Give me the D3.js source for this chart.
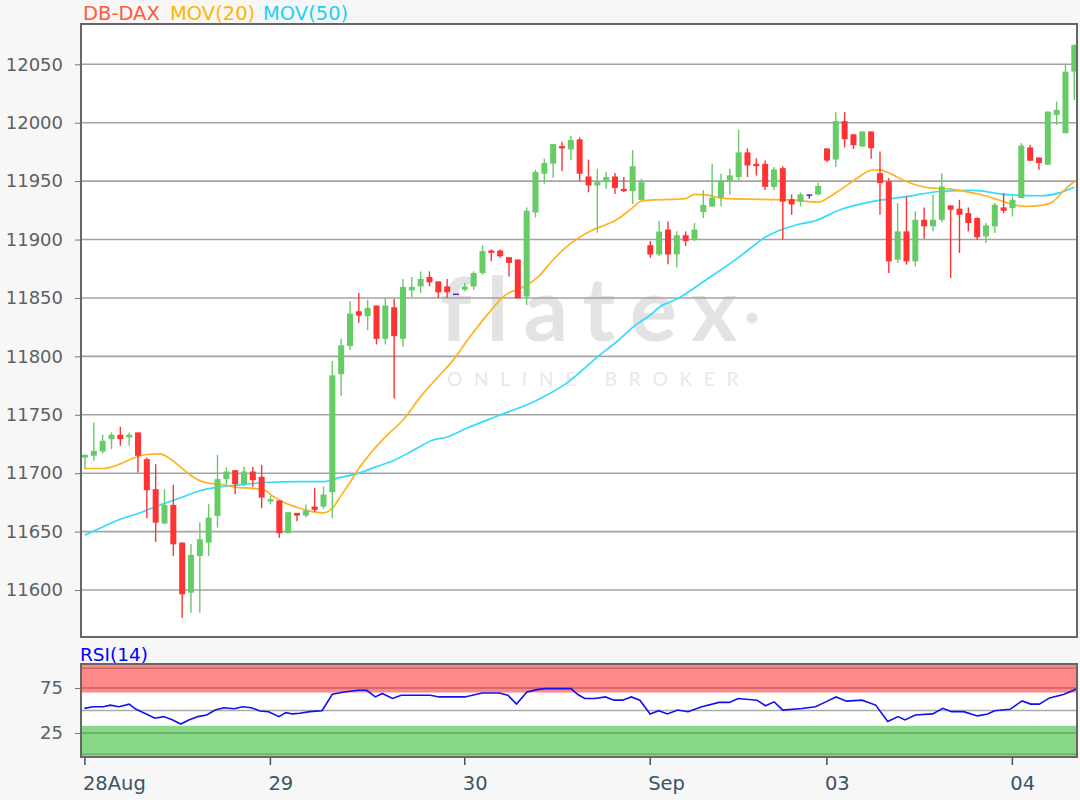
<!DOCTYPE html>
<html><head><meta charset="utf-8">
<script src="https://cdn.jsdelivr.net/npm/d3@7/dist/d3.min.js"></script>
<style>html,body{margin:0;padding:0;background:#f7f7f7;}svg{display:block;font-family:"DejaVu Sans",sans-serif;}</style>
</head><body><svg id="c" width="1080" height="800"></svg>
<script>
// ---- data ----
const openP  = [11713.4,11714.9,11718.6,11729.1,11732.9,11730.6,11734.9,11712,11686.3,11656.9,11672.9,11640.6,11597.7,11629.1,11640.6,11663.4,11694.9,11702.6,11690.6,11701.4,11696.9,11675.7,11676.6,11648.6,11666,11663.7,11671.4,11671.4,11683.8,11784.7,11808.8,11838.6,11834.4,11843.5,11815,11842,11815,11856.5,11859.9,11867.9,11864.2,11859.9,11853.7,11857.1,11859.8,11871.3,11890.6,11890.6,11884.9,11882.9,11851.2,11923.2,11956.3,11965,11980,11977.1,11985.7,11954,11946.3,11949.1,11954,11943.4,11941.4,11933.9,11895.2,11887.2,11908.5,11887.3,11903.7,11900,11923.4,11928.2,11935.8,11949.3,11953.5,11974.6,11964.8,11964.8,11945.1,11961.1,11934.6,11932.4,11938.6,11938.6,11978,11968.5,12001.4,11990.1,11979.6,11992.5,11956.8,11949.7,11882.8,11907,11881.3,11916.9,11911.3,11916.9,11929.2,11926.4,11922.6,11918.4,11902.7,11911.3,11927.5,11926.9,11935.5,11978.8,11970.2,11964,12006.7,11991,12043.7];
const highP  = [11715.7,11743.4,11732.9,11734.9,11739.7,11734.9,11734.9,11713.4,11707.7,11686.3,11690,11640.6,11639.1,11657.7,11673.4,11715.7,11704.9,11702.6,11705.4,11705.4,11707.1,11680.6,11676.6,11666.6,11666,11673.1,11687.4,11688.6,11796,11815,11847.2,11854.3,11848.6,11843.5,11850,11849.1,11866.2,11867.9,11872.7,11872.7,11864.2,11866.2,11853.7,11862.8,11872.8,11895.2,11891.5,11891.5,11884.9,11882.9,11927.5,11959.8,11969.3,11981.7,11983.7,11988.6,11987.5,11968.4,11960.7,11957.8,11956.9,11953.5,11976.5,11952,11898.7,11916,11915.5,11907,11907,11914.1,11942.3,11964.8,11956.3,11960.6,11993.8,11978,11969.6,11967.6,11962,11962.8,11938.6,11940.3,11938.6,11948.7,11978,12009,12009,11990.1,11992.5,11992.5,11975.4,11952.6,11931.2,11936.9,11924.1,11927.5,11938.3,11956.8,11929.2,11934,11927.5,11919,11914.1,11931.2,11939.7,11936.9,11982.5,11981.1,11970.2,12009.5,12018.1,12049.4,12067.1];
const lowP   = [11703.4,11710.6,11716.9,11720.6,11723.4,11723.4,11700.6,11661.4,11641.1,11656.3,11629.1,11576.3,11580.6,11580.6,11629.1,11653.4,11690,11682,11689.1,11688.3,11670,11673.4,11644.6,11648.6,11658.9,11662.3,11666.6,11669.4,11661.6,11766.2,11805.4,11828.7,11822.4,11810.2,11810.2,11763.9,11808.2,11850.9,11854.3,11859.9,11850,11850,11853.7,11855.7,11856.9,11869.9,11881.4,11884.3,11868.4,11849.7,11844,11918.9,11947.7,11952.9,11958.6,11968.4,11950,11940.5,11905.9,11943.4,11939,11940.5,11930.4,11933.3,11884.3,11885.7,11878.9,11876,11894.4,11898.6,11918.3,11928.2,11928.2,11938.6,11949.9,11953.5,11954.9,11942.3,11942.3,11900,11921.1,11928.2,11935,11938,11966.2,11962,11978.9,11977.5,11979.6,11969.1,11921.2,11871.4,11879.9,11878.5,11877,11900.7,11907,11915,11867,11888.5,11907,11899.9,11897,11905.6,11922.6,11919.8,11935.5,11967.4,11959.7,11964,11998.1,11991,12019.5];
const closeP = [11715.7,11719.1,11727.7,11732.9,11729.1,11732.9,11714.9,11685.4,11657.7,11672.9,11639.1,11596.3,11630,11643.4,11662,11694.9,11701.4,11690.6,11701.4,11694,11679.1,11677.7,11648.6,11666.6,11663.7,11668,11668.6,11681.7,11783.8,11809.4,11836.6,11834.9,11841.5,11815,11843.5,11817.3,11859.4,11859.4,11866.2,11863.4,11854.8,11854.8,11853.7,11859.9,11871.3,11890.1,11888.6,11885.7,11880,11849.7,11924.6,11957.8,11965.6,11981.7,11978,11985.2,11956.3,11946.3,11949.1,11953.5,11944.2,11941.4,11962.7,11949.1,11887.2,11906.8,11887.3,11903.7,11898.6,11908.5,11929.6,11935.8,11950.7,11954.9,11974.6,11963.4,11962.8,11945.1,11960,11932.4,11930.1,11938.6,11938.6,11945.9,11967.6,12001.4,11985.9,11980.8,11992.5,11978.2,11948.3,11881.3,11907,11881.3,11916.9,11911.3,11916.9,11945.4,11925.5,11921.2,11914.1,11901.9,11912.1,11929.8,11924.6,11934,11980.5,11967.4,11965.4,12009.5,12011,12043.7,12066.5];

// moving averages: candle index where read, and value
const mov20At = [0,2,4,5.5,7,8.5,9.5,10.7,12,13,14,15.3,17,19,20.2,21.3,22.8,24.3,25.8,27,28,29,30,31,32,34,36,38,40,41.7,43.6,45.7,47.5,49.5,51.3,52.8,54.3,55.8,57.4,58.9,60.4,61.9,63,64.5,66.6,68,69,70.5,72.2,76.4,80.2,83,84.3,85.5,87.4,89,90,91.3,92.8,94.3,95.9,97.8,99.6,101.5,103.4,104.9,106.4,108.3,109.6,110.9,112];
const mov20   = [11704,11704,11708,11713,11716,11716.5,11713,11706,11698,11693.5,11691.5,11690.5,11688,11687,11686,11680,11674,11670,11667,11666,11670,11681,11692,11704,11714,11731,11745.5,11765.5,11782.6,11797,11817,11837,11852,11859,11868,11881,11892.5,11901,11908,11912.4,11918,11926.7,11933,11934,11934.4,11935,11938.6,11938,11935.2,11934.4,11933.8,11932,11936.6,11942.5,11952.4,11959.3,11959.7,11956,11950.3,11946.3,11944,11943.4,11941.2,11938.3,11934,11930.3,11928.3,11929.2,11932.6,11942.6,11949.7];
const mov50At = [0,2,4,6,8.5,10.7,13,15,17.5,20.5,24,27,28.5,31,33,35,37,39.4,41,43.2,47,50.8,54.5,58.3,60.2,62.1,64,65.1,67,70.4,74.2,77,80.6,82.5,85.5,89.2,93,96.8,100.6,104.3,108.1,110.4,112];
const mov50   = [11647,11654,11660.5,11665.5,11672.8,11678.5,11685,11688,11690,11692,11692.7,11692.7,11695.6,11700,11705.6,11711,11719,11728.4,11731,11738.4,11749.8,11761.2,11776.9,11801.2,11812.5,11825.4,11835.4,11842.5,11849,11866,11885.8,11902,11912.7,11915.6,11925.5,11932.6,11936.8,11941.1,11942,11938.5,11937.5,11940.2,11944.8];

// RSI(14): candle index where read, and value
const rsiAt = [-0.07,0.9,2.07,2.85,3.83,5.0,5.78,6.75,7.92,8.9,9.87,10.84,11.82,12.79,13.77,14.74,15.72,16.89,17.86,18.84,19.81,20.79,21.95,22.73,23.51,24.29,25.46,26.83,28.0,29.36,30.92,31.89,32.87,33.65,34.82,35.8,39.1,40.08,43.0,44.96,46.9,47.88,48.85,50.03,51.19,52.0,55.02,55.8,56.58,57.75,58.91,59.89,60.86,61.84,62.82,63.98,64.96,65.93,67.1,68.27,69.83,71.78,72.95,73.93,76.07,77.04,78.02,79.0,81.14,82.7,83.87,85.03,86.21,87.96,89.51,90.88,92.05,92.83,94.0,95.96,97.12,98.1,99.47,101.02,102.2,102.97,104.72,106.09,107.07,108.04,109.2,110.76,111.93,112.3];
const rsi   = [52.4,54.2,54.2,56,54.2,57.1,51.3,46.9,41.4,43.2,39.6,34.9,39.6,43.2,45,50.5,53.1,52,54.2,53.1,49.4,48.7,43.2,47.6,46.2,46.9,48.7,49.8,68.1,70.6,72.5,72.5,65.1,68.9,63.4,67,67,65.1,65.1,69.5,69.5,67,57.1,70.6,73.2,74.3,74.3,67.8,63.4,63.4,65.1,61.5,61.5,65.1,61.5,46.2,49.8,46.2,50.5,48.7,54.2,59,59,63.4,61.5,55.3,59.6,50.5,52.3,54.2,59.6,65.1,60.4,61.5,56,37.7,43.2,39.6,45,46.2,52.4,48.7,48.7,44,46.2,49.8,51.3,60.7,57.1,57.1,64,67.8,72.5,74.5];

const priceTicks = [11600,11650,11700,11750,11800,11850,11900,11950,12000,12050];
const rsiTicks = [25,75];
const dateLabels = ["28Aug","29","30","Sep","03","04"];
const dateAt = [0,21,43,64,84,105];   // first candle of each trading day

// ---- layout ----
const svg = d3.select("#c");
const L = 81, R = 1077, T = 24, B = 637, RT = 664, RB = 757;
const x = d3.scaleLinear().domain([0, 112]).range([85, 1074.3]);
const y = d3.scaleLinear().domain([11600, 12050]).range([590, 64.3]);
const yr = d3.scaleLinear().domain([-1.7, 101.7]).range([RB, RT]);

svg.append("rect").attr("width",1080).attr("height",800).attr("fill","#f7f7f7");
const defs = svg.append("defs");
defs.append("clipPath").attr("id","pc").append("rect").attr("x",L).attr("y",T).attr("width",R-L).attr("height",B-T);
defs.append("clipPath").attr("id","rc").append("rect").attr("x",L).attr("y",RT).attr("width",R-L).attr("height",RB-RT);

// main plot background
svg.append("rect").attr("x",L).attr("y",T).attr("width",R-L).attr("height",B-T).attr("fill","#fff");

// watermark
const wm = svg.append("g").attr("fill","#e3e3e3");
wm.append("text").attr("x",440).attr("y",341).attr("font-family","Lato, 'Open Sans', sans-serif").attr("font-weight","700")
  .attr("font-size",88).attr("letter-spacing",15).text("flatex");
wm.append("circle").attr("cx",752).attr("cy",318).attr("r",5.5);
wm.append("text").attr("x",447).attr("y",386).attr("font-family","Lato, sans-serif").attr("font-size",19)
  .attr("letter-spacing",11.8).attr("fill","#e8e8e8").text("ONLINE BROKER");

// gridlines + price axis
const ga = svg.append("g").attr("transform",`translate(${L},0)`)
  .call(d3.axisLeft(y).tickValues(priceTicks).tickSize(6).tickPadding(12).tickFormat(d3.format("d")));
ga.select(".domain").remove();
ga.selectAll("text").attr("font-size",18).attr("fill","#606060").attr("font-family","DejaVu Sans");
ga.selectAll("line").attr("stroke","#777");
svg.append("g").selectAll("line").data(priceTicks).join("line")
  .attr("x1",L).attr("x2",R).attr("y1",d=>y(d)).attr("y2",d=>y(d))
  .attr("stroke","#a3a3a3").attr("stroke-width",1.6);

// moving averages
const plot = svg.append("g").attr("clip-path","url(#pc)");
const ln = d3.line().x(d=>x(d[0])).y(d=>y(d[1])).curve(d3.curveMonotoneX);
plot.append("path").datum(mov50At.map((a,i)=>[a,mov50[i]])).attr("d",ln).attr("fill","none").attr("stroke","#33dcff").attr("stroke-width",1.7);
plot.append("path").datum(mov20At.map((a,i)=>[a,mov20[i]])).attr("d",ln).attr("fill","none").attr("stroke","#ffb31e").attr("stroke-width",1.7);

// candles
const idx = d3.range(openP.length);
const col = i => closeP[i] > openP[i] ? "#66cc66" : (closeP[i] < openP[i] ? "#ff3333" : "#5522cc");
const cw = 6;
plot.append("g").selectAll("line").data(idx).join("line")
  .attr("x1",i=>x(i)).attr("x2",i=>x(i)).attr("y1",i=>y(highP[i])).attr("y2",i=>y(lowP[i]))
  .attr("stroke",col).attr("stroke-width",1.4);
plot.append("g").selectAll("rect").data(idx).join("rect")
  .attr("x",i=>x(i)-cw/2).attr("width",cw)
  .attr("y",i=>y(Math.max(openP[i],closeP[i])))
  .attr("height",i=>Math.max(1.4, Math.abs(y(openP[i])-y(closeP[i]))))
  .attr("fill",col);

// main border
svg.append("rect").attr("x",L).attr("y",T).attr("width",R-L).attr("height",B-T).attr("fill","none").attr("stroke","#666").attr("stroke-width",2);

// title
const tt = [["DB-DAX",83,"#ff5a3c"],["MOV(20)",170,"#ffb400"],["MOV(50)",263,"#1ecff5"]];
svg.append("g").selectAll("text").data(tt).join("text").attr("x",d=>d[1]).attr("y",20).attr("font-size",19.5).attr("fill",d=>d[2]).text(d=>d[0]);

// ---- RSI panel ----
svg.append("rect").attr("x",L).attr("y",RT).attr("width",R-L).attr("height",RB-RT).attr("fill","#fff");
svg.append("rect").attr("x",L).attr("y",RT).attr("width",R-L).attr("height",yr(70)-RT).attr("fill","#ff8888");
svg.append("rect").attr("x",L).attr("y",yr(33)).attr("width",R-L).attr("height",RB-yr(33)).attr("fill","#88d888");
const rg = [[97,"#d06a6a"],[75,"#c86060"],[50,"#aaaaaa"],[25,"#5fa85f"],[1.5,"#5fa85f"]];
svg.append("g").selectAll("line").data(rg).join("line").attr("x1",L).attr("x2",R).attr("y1",d=>yr(d[0])).attr("y2",d=>yr(d[0]))
  .attr("stroke",d=>d[1]).attr("stroke-width",1.4);
const ra = svg.append("g").attr("transform",`translate(${L},0)`).call(d3.axisLeft(yr).tickValues(rsiTicks).tickSize(6).tickPadding(12));
ra.select(".domain").remove();
ra.selectAll("text").attr("font-size",18).attr("fill","#606060").attr("font-family","DejaVu Sans");
ra.selectAll("line").attr("stroke","#777");
const rl = d3.line().x(d=>x(d[0])).y(d=>yr(d[1]));
svg.append("g").attr("clip-path","url(#rc)").append("path").datum(rsiAt.map((a,i)=>[a,rsi[i]])).attr("d",rl)
  .attr("fill","none").attr("stroke","#1010f0").attr("stroke-width",1.6);
svg.append("rect").attr("x",L).attr("y",RT).attr("width",R-L).attr("height",RB-RT).attr("fill","none").attr("stroke","#666").attr("stroke-width",2);
svg.append("text").attr("x",80).attr("y",661).attr("font-size",18.5).attr("fill","#0000ff").text("RSI(14)");

// date axis
const xa = svg.append("g").attr("transform",`translate(-0.6,${RB+1})`)
  .call(d3.axisBottom(x).tickValues(dateAt).tickSize(7).tickPadding(0).tickFormat((d,i)=>dateLabels[i]));
xa.select(".domain").remove();
xa.selectAll("line").attr("stroke","#3d5366").attr("stroke-width",1.5);
xa.selectAll("text").attr("text-anchor","start").attr("dx",-2).attr("dy",0).attr("y",32).attr("font-size",19.5).attr("fill","#3d5366").attr("font-family","DejaVu Sans");
</script></body></html>
